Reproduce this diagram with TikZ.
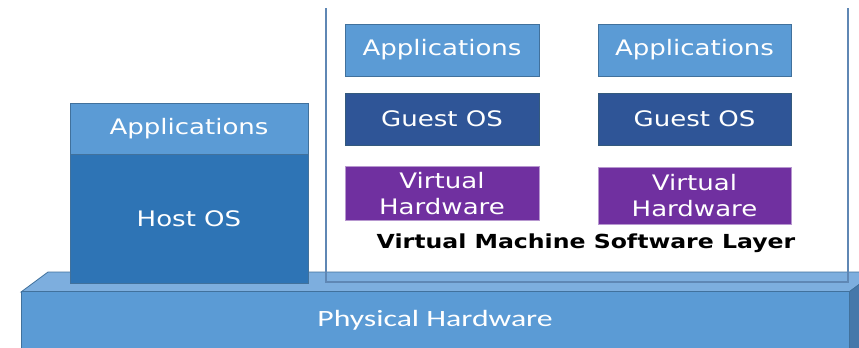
\documentclass[tikz,border=0pt]{standalone}
\usepackage{fontspec}
\usepackage{xcolor}
\usepackage{tikz}
\newfontfamily\boxfont[FakeStretch=1.22]{DejaVu Sans}
\newfontfamily\hwfont[FakeStretch=1.36]{Carlito}
\definecolor{lightblue}{RGB}{91,155,213}
\definecolor{topblue}{RGB}{125,174,222}
\definecolor{sideblue}{RGB}{70,120,170}
\definecolor{edgeblue}{RGB}{65,113,156}
\definecolor{hostblue}{RGB}{46,116,181}
\definecolor{guestblue}{RGB}{47,85,151}
\definecolor{vhpurple}{RGB}{112,48,160}
\definecolor{framegrey}{RGB}{95,135,180}

\tikzset{
  layer/.style={inner sep=0pt, text=white, align=center, line width=0.6pt,
    font=\boxfont\fontsize{16}{20}\selectfont},
  appbox/.style={layer, draw=edgeblue, fill=lightblue,
    minimum width=145.5pt, minimum height=39pt},
  guestbox/.style={layer, draw=edgeblue!80!black, fill=guestblue,
    minimum width=145.5pt, minimum height=39pt},
  vhbox/.style={layer, draw=vhpurple!50!white, fill=vhpurple,
    minimum width=145.5pt, minimum height=40pt},
  hostbox/.style={layer, draw=edgeblue, fill=hostblue,
    minimum width=178.5pt},
  hwbox/.style={layer, draw=edgeblue, fill=lightblue,
    minimum width=621pt, minimum height=43.5pt,
    font=\hwfont\fontsize{17.5}{20}\selectfont}
}

\begin{document}
\begin{tikzpicture}[x=0.75pt, y=-0.75pt]
\clip (0,0) rectangle (859,347);
\fill[white] (0,0) rectangle (859,347);

% physical hardware slab
\filldraw[fill=topblue, draw=edgeblue, line width=0.6pt]
  (21,292) -- (48,272) -- (876,272) -- (849,292) -- cycle;
\filldraw[fill=sideblue, draw=edgeblue, line width=0.6pt]
  (849,292) -- (876,272) -- (876,350) -- (849,350) -- cycle;
\node[hwbox] (hw) at (435,320.5) {Physical Hardware};

% host side
\node[appbox, hostbox, fill=lightblue, minimum height=38.25pt] (hostapp) at (189,128.5) {Applications};
\node[hostbox, minimum height=96.75pt] (host) at (189,218.5) {Host OS};

% virtual machine layer
\draw[framegrey, line width=1.1pt] (326,8) -- (326,282) -- (848,282) -- (848,8);

\node[appbox] (app1) at (442,50) {Applications};
\node[guestbox] (guest1) at (442,119) {Guest OS};
\node[vhbox] (vh1) at (442,193.5) {Virtual\\Hardware};

\node[appbox, minimum width=144.75pt] (app2) at (694.5,50) {Applications};
\node[guestbox, minimum width=144.75pt] (guest2) at (694.5,119) {Guest OS};
\node[vhbox, minimum width=144.75pt, minimum height=42.75pt] (vh2) at (694.5,195.5) {Virtual\\Hardware};

\node[font=\boxfont\fontsize{14.5}{16}\selectfont\bfseries] (vmlayer) at (586,243)
  {Virtual Machine Software Layer};
\end{tikzpicture}
\end{document}
